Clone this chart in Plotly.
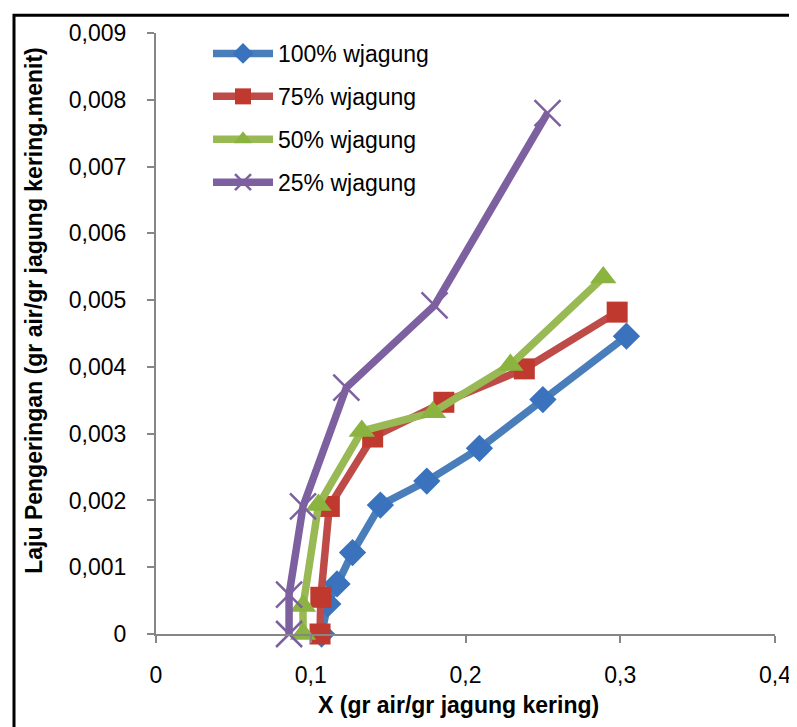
import plotly.graph_objects as go

# ---- data ----
series_names = ["100% wjagung", "75% wjagung", "50% wjagung", "25% wjagung"]

x_100 = [0.304, 0.250, 0.209, 0.175, 0.145, 0.127, 0.117, 0.111, 0.107]
y_100 = [0.00446, 0.00351, 0.00278, 0.00229, 0.00193, 0.00122, 0.00075, 0.00045, 0.0]

x_75 = [0.298, 0.238, 0.186, 0.140, 0.112, 0.1065, 0.106]
y_75 = [0.00482, 0.00397, 0.00347, 0.00295, 0.00191, 0.00055, 0.0]

x_50 = [0.289, 0.229, 0.179, 0.133, 0.105, 0.095, 0.095]
y_50 = [0.00534, 0.00403, 0.00332, 0.00304, 0.00193, 0.00042, 0.0]

x_25 = [0.253, 0.180, 0.123, 0.095, 0.086, 0.086]
y_25 = [0.00780, 0.00492, 0.00369, 0.00191, 0.00059, 0.0]

x_tick_vals = [0, 0.1, 0.2, 0.3, 0.4]
x_tick_text = ["0", "0,1", "0,2", "0,3", "0,4"]
y_tick_vals = [0, 0.001, 0.002, 0.003, 0.004, 0.005, 0.006, 0.007, 0.008, 0.009]
y_tick_text = ["0", "0,001", "0,002", "0,003", "0,004", "0,005", "0,006", "0,007", "0,008", "0,009"]

x_title = "X (gr air/gr jagung kering)"
y_title = "Laju Pengeringan (gr air/gr jagung kering.menit)"

# ---- styles ----
line_colors = ["#4A7EBB", "#BE4B48", "#98B954", "#7D60A0"]
marker_colors = ["#3A72BE", "#C0392F", "#8AB43F", "#7D60A0"]
symbols = ["diamond", "square", "triangle-up", "x-thin"]
msizes = [21, 21, 23, 26]

xs = [x_100, x_75, x_50, x_25]
ys = [y_100, y_75, y_50, y_25]

fig = go.Figure()
for i in range(4):
    marker = dict(symbol=symbols[i], size=msizes[i], color=marker_colors[i])
    if symbols[i] == "x-thin":
        marker["line"] = dict(width=2.5, color=marker_colors[i])
    else:
        marker["line"] = dict(width=0)
    fig.add_trace(go.Scatter(
        x=xs[i], y=ys[i], mode="lines+markers", name=series_names[i],
        legendgroup=series_names[i],
        line=dict(color=line_colors[i], width=7.5),
        marker=marker, cliponaxis=False,
    ))

# page offset caused by the default body margin
OFF = 8
W, H = 797, 727
# desired plot area in page pixels
PL, PR, PT, PB = 156, 775, 26, 634
L = PL - OFF
T = PT - OFF
R = W - (PR - OFF)
B = H - (PB - OFF)
pw, ph = W - L - R, H - T - B

def px_to_paper_x(px):
    return (px - OFF - L) / pw

def px_to_paper_y(py):
    return (H - B - (py - OFF)) / ph

axis_font = dict(family="Liberation Sans, Arial, sans-serif", size=23, color="#000000")
title_font = dict(family="Liberation Sans, Arial, sans-serif", size=23, color="#000000")

fig.update_layout(
    width=W, height=H,
    margin=dict(l=L, r=R, t=T, b=B, pad=0),
    paper_bgcolor="white", plot_bgcolor="white",
    showlegend=True,
    legend=dict(
        x=px_to_paper_x(208), y=px_to_paper_y(25), xanchor="left", yanchor="top",
        font=dict(family="Liberation Sans, Arial, sans-serif", size=23, color="#000000"),
        bgcolor="rgba(0,0,0,0)", tracegroupgap=10, itemwidth=60,
    ),
    xaxis=dict(
        range=[0, 0.4], tickvals=x_tick_vals, ticktext=x_tick_text,
        showgrid=False, zeroline=False, showline=True, linecolor="#868686", linewidth=2,
        ticks="outside", ticklen=7, tickwidth=2, tickcolor="#868686",
        tickfont=axis_font, ticklabelstandoff=12,
    ),
    yaxis=dict(
        range=[0, 0.009], tickvals=y_tick_vals, ticktext=y_tick_text,
        showgrid=False, zeroline=False, showline=True, linecolor="#868686", linewidth=2,
        ticks="outside", ticklen=7, tickwidth=2, tickcolor="#868686",
        tickfont=axis_font, ticklabelstandoff=16,
    ),
    annotations=[
        dict(text="<b>" + x_title + "</b>", xref="paper", yref="paper",
             x=px_to_paper_x(458), y=px_to_paper_y(706), xanchor="center", yanchor="middle",
             showarrow=False, font=title_font),
        dict(text="<b>" + y_title + "</b>", xref="paper", yref="paper",
             x=px_to_paper_x(34), y=px_to_paper_y(307), xanchor="center", yanchor="middle",
             textangle=-90, showarrow=False, font=title_font),
    ],
    shapes=[
        dict(type="rect", xref="paper", yref="paper",
             x0=px_to_paper_x(14), y0=px_to_paper_y(760),
             x1=px_to_paper_x(830), y1=px_to_paper_y(8),
             line=dict(color="black", width=3), fillcolor="rgba(0,0,0,0)", layer="below"),
    ],
)

fig.write_html("out.html")
